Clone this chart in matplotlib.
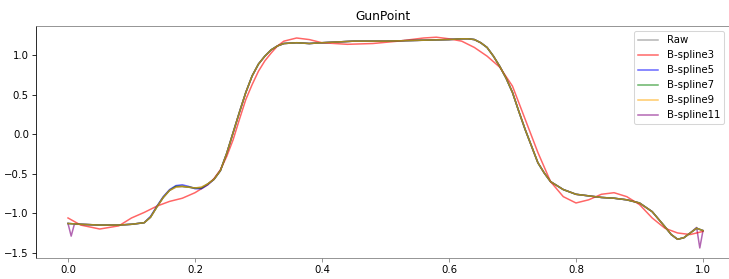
import numpy as np
import matplotlib
matplotlib.use('Agg')
import matplotlib.pyplot as plt

# GunPoint sample, values
x_raw = [0.00, 0.02, 0.05, 0.08, 0.10, 0.12, 0.13, 0.14, 0.15, 0.16, 0.17, 0.18,
         0.19, 0.20, 0.21, 0.22, 0.23, 0.24, 0.25, 0.26, 0.27, 0.28, 0.29, 0.30,
         0.31, 0.32, 0.33, 0.34, 0.36, 0.38, 0.40, 0.45, 0.50, 0.55, 0.60, 0.62,
         0.63, 0.64, 0.65, 0.66, 0.67, 0.68, 0.69, 0.70, 0.71, 0.72, 0.73, 0.74,
         0.75, 0.76, 0.78, 0.80, 0.82, 0.84, 0.86, 0.88, 0.90, 0.92, 0.94, 0.95,
         0.96, 0.97, 0.98, 0.99, 1.00]
raw = [-1.13, -1.14, -1.15, -1.15, -1.14, -1.12, -1.05, -0.92, -0.80, -0.71, -0.67, -0.66,
       -0.67, -0.68, -0.67, -0.63, -0.57, -0.46, -0.24, 0.02, 0.28, 0.53, 0.74, 0.89,
       0.99, 1.07, 1.12, 1.15, 1.16, 1.15, 1.16, 1.18, 1.18, 1.19, 1.20, 1.21,
       1.21, 1.20, 1.16, 1.10, 0.99, 0.86, 0.71, 0.53, 0.29, 0.06, -0.15, -0.36,
       -0.49, -0.60, -0.70, -0.76, -0.78, -0.80, -0.81, -0.83, -0.87, -0.98, -1.17, -1.27,
       -1.33, -1.31, -1.25, -1.19, -1.22]

x_b3 = [0.00, 0.02, 0.05, 0.08, 0.10, 0.12, 0.14, 0.16, 0.18, 0.20, 0.22, 0.23,
        0.24, 0.25, 0.26, 0.27, 0.28, 0.29, 0.30, 0.31, 0.32, 0.33, 0.34, 0.36,
        0.38, 0.40, 0.44, 0.48, 0.52, 0.56, 0.58, 0.60, 0.62, 0.64, 0.66, 0.68,
        0.70, 0.72, 0.74, 0.76, 0.78, 0.80, 0.82, 0.84, 0.86, 0.88, 0.90, 0.92,
        0.94, 0.96, 0.98, 1.00]
bspline3 = [-1.06, -1.15, -1.20, -1.16, -1.06, -0.99, -0.91, -0.85, -0.81, -0.74, -0.64, -0.56,
            -0.45, -0.28, -0.07, 0.19, 0.44, 0.63, 0.80, 0.93, 1.03, 1.12, 1.18, 1.22,
            1.20, 1.16, 1.14, 1.15, 1.18, 1.22, 1.23, 1.21, 1.18, 1.10, 0.99, 0.85,
            0.61, 0.19, -0.23, -0.60, -0.79, -0.87, -0.83, -0.76, -0.74, -0.79, -0.89, -1.06,
            -1.19, -1.25, -1.27, -1.23]

bspline5 = [-1.13, -1.14, -1.15, -1.15, -1.14, -1.12, -1.04, -0.91, -0.79, -0.70, -0.65, -0.64,
            -0.66, -0.69, -0.69, -0.64, -0.57, -0.46, -0.24, 0.02, 0.28, 0.53, 0.74, 0.89,
            0.99, 1.07, 1.12, 1.15, 1.16, 1.15, 1.16, 1.18, 1.18, 1.19, 1.20, 1.21,
            1.21, 1.20, 1.16, 1.10, 0.99, 0.86, 0.71, 0.53, 0.29, 0.06, -0.15, -0.36,
            -0.49, -0.60, -0.70, -0.76, -0.78, -0.80, -0.81, -0.83, -0.87, -0.98, -1.17, -1.27,
            -1.33, -1.31, -1.25, -1.19, -1.22]
bspline7 = [-1.13, -1.14, -1.15, -1.15, -1.14, -1.12, -1.05, -0.92, -0.80, -0.71, -0.66, -0.66,
            -0.67, -0.68, -0.68, -0.63, -0.57, -0.46, -0.24, 0.02, 0.28, 0.53, 0.74, 0.89,
            0.99, 1.07, 1.12, 1.15, 1.16, 1.15, 1.16, 1.18, 1.18, 1.19, 1.20, 1.21,
            1.21, 1.20, 1.16, 1.10, 0.99, 0.86, 0.71, 0.53, 0.29, 0.06, -0.15, -0.36,
            -0.49, -0.60, -0.70, -0.76, -0.78, -0.80, -0.81, -0.83, -0.87, -0.98, -1.17, -1.27,
            -1.33, -1.31, -1.25, -1.19, -1.22]
bspline9 = [-1.13, -1.14, -1.15, -1.15, -1.14, -1.12, -1.05, -0.92, -0.80, -0.71, -0.67, -0.66,
            -0.67, -0.68, -0.67, -0.63, -0.57, -0.46, -0.24, 0.02, 0.28, 0.53, 0.74, 0.89,
            0.99, 1.07, 1.12, 1.15, 1.16, 1.15, 1.16, 1.18, 1.18, 1.19, 1.20, 1.21,
            1.21, 1.20, 1.16, 1.10, 0.99, 0.86, 0.71, 0.53, 0.29, 0.06, -0.15, -0.36,
            -0.49, -0.60, -0.70, -0.76, -0.78, -0.80, -0.81, -0.83, -0.87, -0.98, -1.17, -1.27,
            -1.33, -1.31, -1.25, -1.19, -1.22]

# B-spline11 has spikes at both ends
x_b11 = [0.000, 0.005, 0.010, 0.02, 0.05, 0.08, 0.10, 0.12, 0.13, 0.14, 0.15, 0.16,
         0.17, 0.18, 0.19, 0.20, 0.21, 0.22, 0.23, 0.24, 0.25, 0.26, 0.27, 0.28,
         0.29, 0.30, 0.31, 0.32, 0.33, 0.34, 0.36, 0.38, 0.40, 0.45, 0.50, 0.55,
         0.60, 0.62, 0.63, 0.64, 0.65, 0.66, 0.67, 0.68, 0.69, 0.70, 0.71, 0.72,
         0.73, 0.74, 0.75, 0.76, 0.78, 0.80, 0.82, 0.84, 0.86, 0.88, 0.90, 0.92,
         0.94, 0.95, 0.96, 0.97, 0.98, 0.99, 0.995, 1.00]
bspline11 = [-1.13, -1.29, -1.14, -1.14, -1.15, -1.15, -1.14, -1.12, -1.05, -0.92, -0.80, -0.71,
             -0.66, -0.66, -0.67, -0.68, -0.68, -0.63, -0.57, -0.46, -0.24, 0.02, 0.28, 0.53,
             0.74, 0.89, 0.99, 1.07, 1.12, 1.15, 1.16, 1.15, 1.16, 1.18, 1.18, 1.19,
             1.20, 1.21, 1.21, 1.20, 1.16, 1.10, 0.99, 0.86, 0.71, 0.53, 0.29, 0.06,
             -0.15, -0.36, -0.49, -0.60, -0.70, -0.76, -0.78, -0.80, -0.81, -0.83, -0.87, -0.98,
             -1.17, -1.27, -1.33, -1.31, -1.25, -1.18, -1.44, -1.22]

# label, x, y, colour, zorder (B-spline11 sits underneath in the picture)
series = [
    ('Raw', x_raw, raw, 'gray', 2),
    ('B-spline3', x_b3, bspline3, 'red', 2),
    ('B-spline5', x_raw, bspline5, 'blue', 2),
    ('B-spline7', x_raw, bspline7, 'green', 2),
    ('B-spline9', x_raw, bspline9, 'orange', 2),
    ('B-spline11', x_b11, bspline11, 'purple', 1.5),
]

def main():
    dpi = 72.9
    fig = plt.figure(figsize=(729 / dpi, 279 / dpi), dpi=dpi)
    ax = fig.add_axes([36 / 729, 1 - 258.3 / 279, 693 / 729, 232.3 / 279])

    for label, xs, ys, color, z in series:
        ax.plot(xs, ys, color=color, alpha=0.6, label=label, zorder=z)

    ax.set_xlim(-0.0504, 1.041)
    ax.set_ylim(-1.571, 1.372)
    ax.set_xticks([0.0, 0.2, 0.4, 0.6, 0.8, 1.0])
    ax.set_yticks([-1.5, -1.0, -0.5, 0.0, 0.5, 1.0])
    ax.set_title('GunPoint')

    #spine styling as in the picture
    ax.spines['right'].set_visible(False)
    ax.spines['top'].set_color('gray')
    ax.spines['bottom'].set_color('gray')
    ax.tick_params(axis='x', colors='gray', labelcolor='black')

    ax.legend(loc='upper right')
    fig.savefig('out.png', dpi=dpi)

if __name__ == '__main__':
    main()
